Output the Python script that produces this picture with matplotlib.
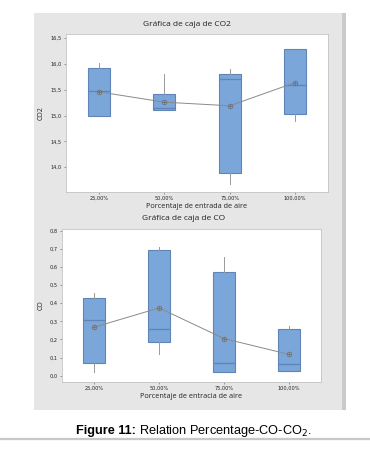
import matplotlib
matplotlib.use('Agg')
import matplotlib.pyplot as plt
from matplotlib.patches import Rectangle
from matplotlib.lines import Line2D

W, H = 370, 449

categorias = ['25,00%', '50,00%', '75,00%', '100,00%']

# CO2: cuartiles, mediana, bigotes y media por grupo
co2_q1 = [15.00, 15.10, 13.89, 15.04]
co2_q3 = [15.93, 15.42, 15.80, 16.29]
co2_med = [15.47, 15.15, 15.71, 15.60]
co2_lo = [15.00, 15.10, 13.68, 14.89]
co2_hi = [16.01, 15.80, 15.90, 16.29]
co2_mean = [15.46, 15.26, 15.19, 15.64]
co2_ticks = [14.0, 14.5, 15.0, 15.5, 16.0, 16.5]

# CO
co_q1 = [0.071, 0.187, 0.020, 0.024]
co_q3 = [0.430, 0.696, 0.574, 0.260]
co_med = [0.306, 0.255, 0.071, 0.063]
co_lo = [0.022, 0.119, 0.020, 0.024]
co_hi = [0.458, 0.713, 0.654, 0.275]
co_mean = [0.268, 0.374, 0.205, 0.118]
co_ticks = [0.0, 0.1, 0.2, 0.3, 0.4, 0.5, 0.6, 0.7, 0.8]

FACE = '#7ba6da'
EDGE = '#5f84b5'
GRIS = '#8a8a8a'
FONT = 'Open Sans'


def px(x0, y0, x1, y1):
    # rectángulo en píxeles -> coordenadas de figura
    return [x0 / W, 1 - y1 / H, (x1 - x0) / W, (y1 - y0) / H]


def caja(ax, q1, q3, med, lo, hi, mean, ticks, ylim, ylab, xlab):
    stats = []
    for i in range(len(categorias)):
        stats.append(dict(q1=q1[i], q3=q3[i], med=med[i], whislo=lo[i],
                          whishi=hi[i], fliers=[], label=categorias[i]))
    pos = list(range(1, len(categorias) + 1))
    ax.bxp(stats, positions=pos, widths=0.34, patch_artist=True,
           showcaps=False, showfliers=False,
           boxprops=dict(facecolor=FACE, edgecolor=EDGE, lw=0.8),
           medianprops=dict(color=EDGE, lw=0.9),
           whiskerprops=dict(color='#9a9a9a', lw=0.7))
    ax.plot(pos, mean, color=GRIS, lw=0.7, zorder=4)
    ax.plot(pos, mean, ls='none', marker='o', ms=3.4, mfc='none',
            mec='#6e6e6e', mew=0.5, zorder=5)
    ax.plot(pos, mean, ls='none', marker='+', ms=3.4, mec='#6e6e6e',
            mew=0.5, zorder=5)
    ax.set_xlim(0.5, 4.5)
    ax.set_ylim(*ylim)
    ax.set_yticks(ticks)
    ax.set_yticklabels(['{:.1f}'.format(t).replace('.', ',') for t in ticks])
    ax.set_xticks(pos)
    ax.set_xticklabels(categorias)
    ax.tick_params(labelsize=3.6, length=1.5, width=0.4, pad=1.5,
                   colors='#555555', labelcolor='#222222')
    for s in ax.spines.values():
        s.set_color('#c4c4c4')
        s.set_linewidth(0.6)
    ax.set_xlabel(xlab, fontsize=5.2, family=FONT, labelpad=1.5, color='#222222')
    ax.set_ylabel(ylab, fontsize=5.0, family=FONT, labelpad=4, color='#222222')


fig = plt.figure(figsize=(W / 100, H / 100), dpi=100)

# panel gris de fondo con borde derecho más oscuro
fig.patches.append(Rectangle((34 / W, 1 - 410 / H), 312 / W, 397 / H,
                             transform=fig.transFigure, facecolor='#e6e6e6',
                             edgecolor='none', zorder=-10))
fig.patches.append(Rectangle((342 / W, 1 - 410 / H), 4 / W, 397 / H,
                             transform=fig.transFigure, facecolor='#cacaca',
                             edgecolor='none', zorder=-10))

ax1 = fig.add_axes(px(66, 34, 328, 192))
caja(ax1, co2_q1, co2_q3, co2_med, co2_lo, co2_hi, co2_mean, co2_ticks,
     (13.52, 16.58), 'CO2', 'Porcentaje de entrada de aire')
fig.text(187 / W, 1 - 24 / H, 'Gráfica de caja de CO2', fontsize=6.0,
         family=FONT, color='#222222', ha='center', va='center')

ax2 = fig.add_axes(px(62, 229, 321, 382))
caja(ax2, co_q1, co_q3, co_med, co_lo, co_hi, co_mean, co_ticks,
     (-0.035, 0.81), 'CO', 'Porcentaje de entracia de aire')
fig.text(184 / W, 1 - 218 / H, 'Gráfica de caja de CO', fontsize=6.0,
         family=FONT, color='#222222', ha='center', va='center')

# pie de figura
fig.text(76 / W, 1 - 431 / H, 'Figure 11:', fontsize=9.2, weight='bold',
         family='Liberation Sans', va='center', ha='left')
fig.text(139 / W, 1 - 431 / H, 'Relation Percentage-CO-CO$_2$.',
         fontsize=9.2, family='Liberation Sans', va='center', ha='left')
fig.lines.append(Line2D([0, 1], [1 - 439 / H, 1 - 439 / H],
                        transform=fig.transFigure, color='#c8c8c8', lw=1.6))

fig.savefig('out.png', dpi=100)
